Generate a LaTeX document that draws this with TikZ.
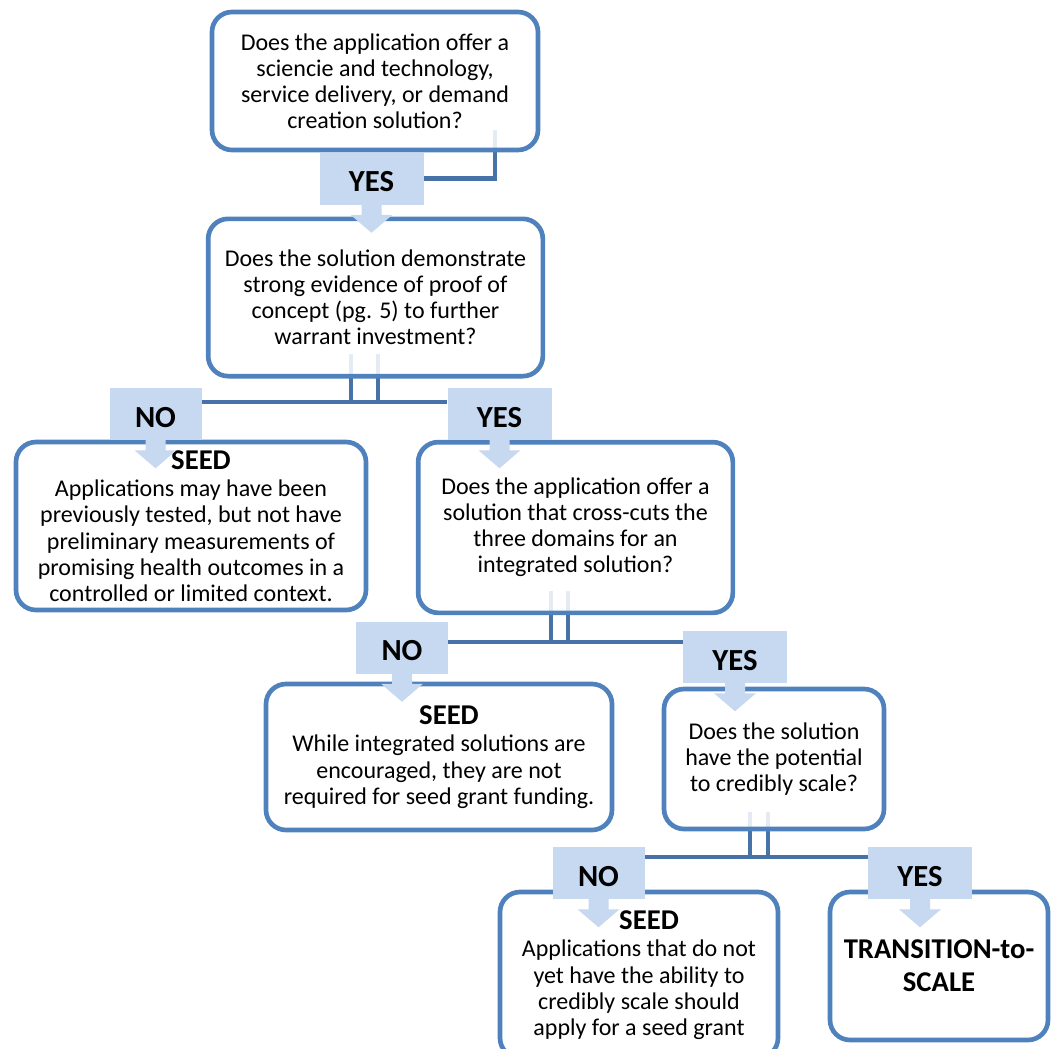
\documentclass[tikz,border=0pt]{standalone}
\usepackage{fontspec}
\setmainfont{Carlito}
\usetikzlibrary{calc}
\definecolor{boxblue}{HTML}{4F81BD}
\definecolor{connblue}{HTML}{4672A8}
\definecolor{arrfill}{HTML}{C6D9F1}
\newcommand\bodyfont{\fontsize{18}{19.6}\selectfont}
\newcommand\labfont{\fontsize{21.5}{24.75}\selectfont\bfseries}
\newcommand\ansfont{\fontsize{23}{26}\selectfont\bfseries}
\newcommand\anslab[1]{\raisebox{-10pt}[0pt][0pt]{#1}}
\newcommand\mkarrow[1]{%
  \fill[arrfill] ($(#1.south)+(-10,-0.5)$) -- ($(#1.south)+(-10,10)$) -- ($(#1.south)+(-21,10)$)
    -- ($(#1.south)+(0,28)$) -- ($(#1.south)+(21,10)$) -- ($(#1.south)+(10,10)$)
    -- ($(#1.south)+(10,-0.5)$) -- cycle;}
\pgfdeclarelayer{bg}
\pgfsetlayers{bg,main}
\tikzset{
  qbox/.style={draw=boxblue, line width=3.5pt, rounded corners=15pt, fill=white,
    fill opacity=0.86, text opacity=1, align=center, inner sep=0pt, font=\bodyfont},
  ansbox/.style={fill=arrfill, inner sep=0pt, minimum height=39pt, font=\ansfont},
  yesbox/.style={ansbox, minimum width=78pt},
  nobox/.style={ansbox, minimum width=69pt},
  conn/.style={draw=connblue, line width=3.5pt},
}
\begin{document}
\begin{tikzpicture}[x=0.75pt, y=-0.75pt]
\useasboundingbox (0,0) rectangle (1060,1049);
\clip (0,0) rectangle (1060,1049);

% boxes
\node[qbox, minimum width=244.5pt, minimum height=103.5pt] (b1) at (375,81)
  {Does the application offer a\\ sciencie and technology,\\ service delivery, or demand\\ creation solution?};
\node[qbox, minimum width=251pt, minimum height=118pt] (b2) at (375.5,297.5)
  {Does the solution demonstrate\\ strong evidence of proof of\\ concept (pg. 5) to further\\ warrant investment?};
\node[qbox, minimum width=262.5pt, minimum height=126pt] (b3) at (191,526)
  {{\labfont\hspace*{15pt}SEED}\\[1pt] Applications may have been\\ previously tested, but not have\\ preliminary measurements of\\ promising health outcomes in a\\ controlled or limited context.};
\node[qbox, minimum width=236pt, minimum height=128pt] (b4) at (575.5,527.5)
  {Does the application offer a\\ solution that cross-cuts the\\ three domains for an\\ integrated solution?};
\node[qbox, minimum width=259.5pt, minimum height=109.5pt] (b5) at (439,757)
  {{\labfont\hspace*{15pt}SEED}\\[1pt] While integrated solutions are\\ encouraged, they are not\\ required for seed grant funding.};
\node[qbox, minimum width=165pt, minimum height=105pt] (b6) at (774,759)
  {Does the solution\\ have the potential\\ to credibly scale?};
\node[qbox, minimum width=208.5pt, minimum height=124.5pt] (b7) at (639,975)
  {{\labfont\hspace*{15pt}SEED}\\[1pt] Applications that do not\\ yet have the ability to\\ credibly scale should\\ apply for a seed grant};
\node[qbox, minimum width=163.5pt, minimum height=111pt, font=\labfont] (b8) at (939,966)
  {TRANSITION-to-\\ SCALE};

% answer arrows
\node[yesbox] (y1) at (371.5,178.5) {\anslab{YES}};
\node[nobox]  (n1) at (155.5,414) {\anslab{NO}};
\node[yesbox] (y2) at (499.5,414) {\anslab{YES}};
\node[nobox]  (n2) at (402,647.5) {\anslab{NO}};
\node[yesbox] (y3) at (735,657) {\anslab{YES}};
\node[nobox]  (n3) at (598.5,873) {\anslab{NO}};
\node[yesbox] (y4) at (920,873) {\anslab{YES}};
\mkarrow{y1}\mkarrow{n1}\mkarrow{y2}\mkarrow{n2}\mkarrow{y3}\mkarrow{n3}\mkarrow{y4}

% connectors
\coordinate (v1) at ($(b1.south)+(120,-22)$);
\coordinate (h2) at (375,402);
\coordinate (v2a) at ($(b2.south)+(-24.5,-25)$);
\coordinate (v2b) at ($(b2.south)+(2.5,-25)$);
\coordinate (h4) at (575,642);
\coordinate (v4a) at ($(b4.south)+(-24.5,-24)$);
\coordinate (v4b) at ($(b4.south)+(-7.5,-24)$);
\coordinate (h6) at (774,857);
\coordinate (v6a) at ($(b6.south)+(-24,-19)$);
\coordinate (v6b) at ($(b6.south)+(-6,-19)$);
\begin{pgfonlayer}{bg}
\draw[conn] (v1) |- (y1.east);
\draw[conn] (n1.east |- h2) -- (y2.west |- h2);
\draw[conn] (v2a) -- (v2a |- h2);
\draw[conn] (v2b) -- (v2b |- h2);
\draw[conn] (n2.east |- h4) -- (y3.west |- h4);
\draw[conn] (v4a) -- (v4a |- h4);
\draw[conn] (v4b) -- (v4b |- h4);
\draw[conn] (n3.east |- h6) -- (y4.west |- h6);
\draw[conn] (v6a) -- (v6a |- h6);
\draw[conn] (v6b) -- (v6b |- h6);
\end{pgfonlayer}
\end{tikzpicture}
\end{document}
